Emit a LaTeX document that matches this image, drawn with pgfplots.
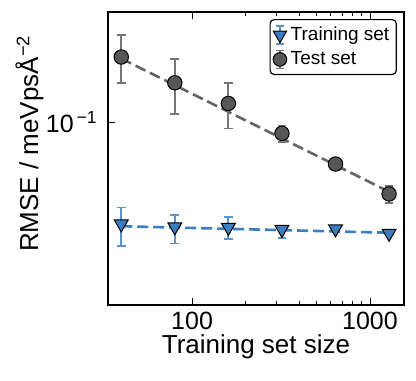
\documentclass[border=0pt]{standalone}
\usepackage{fontspec}
\setmainfont{Liberation Sans}
\usepackage{pgfplots}
\pgfplotsset{compat=1.18}
\definecolor{tblue}{HTML}{3A7DC0}
\definecolor{tbluee}{HTML}{5A93CC}
\definecolor{tgray}{HTML}{575757}
\definecolor{tgraye}{HTML}{767676}
\definecolor{tgrayl}{HTML}{646464}
\pgfplotstableread{
x y ep em
40 0.168 0.032 0.0315
80 0.1368 0.029 0.030
160 0.116 0.021 0.021
320 0.0914 0.006 0.006
640 0.0716 0.0032 0.0033
1280 0.0564 0.0038 0.004
}\testdata
\pgfplotstableread{
x y ep em
40 0.0444 0.0062 0.0072
80 0.0434 0.0042 0.0054
160 0.0432 0.0036 0.0039
320 0.0425 0.0013 0.0027
640 0.0427 0.0005 0.0005
1280 0.0412 0.0006 0.0006
}\traindata
\begin{document}
\begin{tikzpicture}
\begin{axis}[
  scale only axis, width=148pt, height=146.5pt,
  xmode=log, ymode=log,
  xmin=33.7, xmax=1553, ymin=0.02327, ymax=0.2405,
  xtick={100,1000}, xticklabels={100,1000},
  ytick={0.1}, yticklabels={10\textsuperscript{\,−1}},
  tick align=inside, xtick pos=both, ytick pos=left,
  major tick length=3.5pt, minor tick length=2pt,
  axis line style={line width=0.6pt},
  every tick/.style={black, line width=0.5pt},
  ticklabel style={font=\fontsize{12.5}{14}\selectfont},
  xticklabel style={anchor=base, yshift=-12pt},
  yticklabel style={anchor=east, inner sep=0pt, xshift=-5pt},
  xlabel={Training set size},
  ylabel={RMSE / meVpsÅ\textsuperscript{−2}},
  label style={font=\fontsize{13}{15}\selectfont},
  xlabel style={at={([yshift=-24pt]axis description cs:0.5,0)}, anchor=base},
  ylabel style={at={([xshift=-35pt]axis description cs:0,0.551)}, anchor=base},
  legend style={at={(0.976,0.976)}, anchor=north east, draw=black, line width=0.6pt,
    rounded corners=2pt, font=\fontsize{9.5}{11}\selectfont, inner sep=1.5pt,
    row sep=0pt, cells={anchor=west}},
  legend cell align=left,
]
% fit lines
\addplot[tgrayl, dash pattern=on 5.5pt off 2.5pt, line width=1.3pt, forget plot] coordinates {(40,0.166) (1280,0.0574)};
\addplot[tblue, dash pattern=on 5.5pt off 2.5pt, line width=1.3pt, forget plot] coordinates {(40,0.0436) (1280,0.0414)};
% training
\addplot[only marks, mark=triangle*, mark size=4pt,
  mark options={rotate=180, fill=tblue, draw=black, line width=0.5pt},
  legend image code/.code={
    \draw[tbluee, line width=0.9pt] (0pt,-4.5pt)--(0pt,4.5pt) (-2.2pt,-4.5pt)--(2.2pt,-4.5pt) (-2.2pt,4.5pt)--(2.2pt,4.5pt);
    \path[mark=triangle*, mark size=3.8pt, mark options={rotate=180, fill=tblue, draw=black, line width=0.5pt}] plot coordinates {(0pt,0pt)};
  },
  error bars/.cd, y dir=both, y explicit,
  error bar style={tbluee, line width=0.9pt},
  error mark options={rotate=90, mark size=2.2pt, tbluee, line width=0.9pt}]
  table[x=x, y=y, y error plus=ep, y error minus=em]{\traindata};
\addlegendentry{Training set}
% test
\addplot[only marks, mark=*, mark size=3.6pt,
  mark options={fill=tgray, draw=black, line width=0.5pt},
  legend image code/.code={
    \draw[tgraye, line width=0.9pt] (0pt,-4.5pt)--(0pt,4.5pt) (-2.2pt,-4.5pt)--(2.2pt,-4.5pt) (-2.2pt,4.5pt)--(2.2pt,4.5pt);
    \path[mark=*, mark size=3.4pt, mark options={fill=tgray, draw=black, line width=0.5pt}] plot coordinates {(0pt,0pt)};
  },
  error bars/.cd, y dir=both, y explicit,
  error bar style={tgraye, line width=0.9pt},
  error mark options={rotate=90, mark size=2.2pt, tgraye, line width=0.9pt}]
  table[x=x, y=y, y error plus=ep, y error minus=em]{\testdata};
\addlegendentry{Test set}
\end{axis}
\pgfresetboundingbox
\path[use as bounding box] ([xshift=-54pt,yshift=-37.5pt]current axis.south west) rectangle ([xshift=6pt,yshift=6pt]current axis.north east);
\end{tikzpicture}
\end{document}
